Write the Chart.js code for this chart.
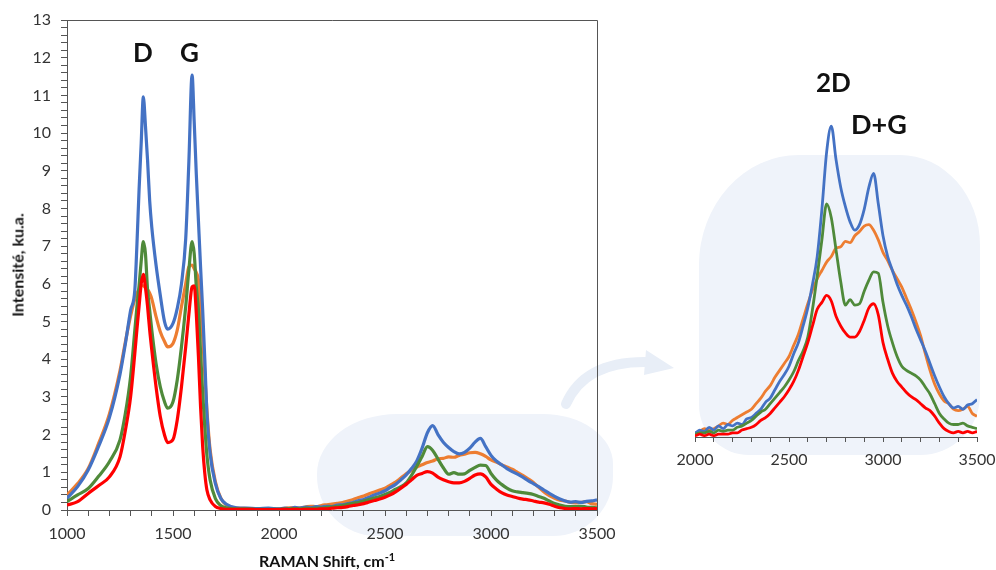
<!DOCTYPE html>
<html>
<head>
<meta charset="utf-8">
<script src="https://cdn.jsdelivr.net/npm/chart.js@4.4.0/dist/chart.umd.min.js"></script>
<style>
  body { margin: 0; background: #fff; }
  #wrap { position: relative; width: 996px; height: 570px; overflow: hidden; font-family: Lato, "Open Sans", sans-serif; }
  .blob { position: absolute; background: #eff3fa; }
  canvas { position: absolute; top: 0; }
  .lbl { position: absolute; font-weight: bold; color: #111; white-space: nowrap; }
</style>
</head>
<body>
<div id="wrap">
  <div class="blob" style="left:317px;top:414px;width:296px;height:122px;border-radius:80px 70px 60px 60px / 60px 50px 60px 60px;"></div>
  <div class="blob" style="left:699px;top:155px;width:281px;height:300px;border-radius:100px 80px 60px 50px / 110px 90px 60px 50px;"></div>
  <svg style="position:absolute;left:0;top:0" width="996" height="570">
    <path d="M 566 404 Q 585 360 650 362" fill="none" stroke="#e8eef7" stroke-width="10" stroke-linecap="round"/>
    <path d="M 646 350 L 674 368 L 644 375 Z" fill="#e8eef7"/>
  </svg>
  <canvas id="main" width="620" height="570" style="left:0"></canvas>
  <canvas id="inset" width="356" height="570" style="left:640px"></canvas>
  <div class="lbl" style="left:133px;top:36px;font-size:26px;">D</div>
  <div class="lbl" style="left:180px;top:36px;font-size:26px;">G</div>
  <div class="lbl" style="left:816px;top:66px;font-size:26px;">2D</div>
  <div class="lbl" style="left:851px;top:107px;font-size:27px;">D+G</div>
  <div class="lbl" style="left:17px;top:265px;font-size:16px;transform:translate(-50%,-50%) rotate(-90deg);">Intensité, ku.a.</div>
  <div class="lbl" style="left:259px;top:550px;font-size:16px;">RAMAN Shift, cm<sup style="font-size:11px">-1</sup></div>
</div>
<script>
// Raman shift, cm-1 (finer around D and G bands)
const shift = [1000,1050,1100,1150,1200,1250,1275,1300,1320,1330,1340,1350,1360,1370,1380,1390,1400,1420,1440,1460,1475,1500,1520,1540,1560,1575,1590,1600,1610,1620,1630,1640,1650,1660,1675,1700,1725,1750,1800,1850,1900,1950,
  2000,2025,2050,2075,2100,2125,2150,2175,2200,2225,2250,2275,2300,2325,2350,2375,2400,2425,2450,2475,2500,2525,2550,2575,2600,2625,2650,2675,2700,2725,2750,2775,2800,2825,2850,2875,2900,2925,2950,2975,3000,3025,3050,3075,3100,3125,3150,3175,3200,3225,3250,3275,3300,3325,3350,3375,3400,3425,3450,3475,3500];

const blue = [0.31,0.62,1.06,1.7,2.45,3.6,4.4,5.3,5.84,7.06,8.5,9.73,10.96,10.2,9.28,8.2,7.5,6.5,5.7,5.0,4.8,4.95,5.35,6.0,7.2,9.26,11.54,10.3,8.9,7.67,6.45,5.3,4.0,2.56,1.5,0.7,0.31,0.16,0.06,0.05,0.04,0.05,
  0.03,0.05,0.04,0.07,0.05,0.08,0.06,0.09,0.08,0.1,0.09,0.13,0.14,0.17,0.2,0.25,0.28,0.34,0.4,0.45,0.51,0.6,0.68,0.8,0.93,1.1,1.3,1.64,2.05,2.24,2.0,1.8,1.66,1.55,1.49,1.53,1.64,1.8,1.9,1.68,1.45,1.3,1.2,1.1,1.02,0.95,0.87,0.78,0.7,0.62,0.53,0.44,0.36,0.29,0.24,0.21,0.22,0.2,0.23,0.24,0.27];

const orange = [0.4,0.7,1.1,1.78,2.55,3.7,4.45,5.15,5.6,5.75,5.85,5.95,5.95,5.9,5.85,5.75,5.6,5.13,4.73,4.47,4.33,4.42,4.77,5.4,6.0,6.45,6.5,6.4,6.3,6.1,5.3,4.6,3.6,2.65,1.6,0.75,0.32,0.14,0.05,0.04,0.03,0.03,
  0.03,0.04,0.06,0.05,0.06,0.08,0.1,0.09,0.12,0.14,0.16,0.18,0.2,0.24,0.28,0.33,0.37,0.43,0.48,0.53,0.58,0.66,0.74,0.85,0.96,1.06,1.14,1.2,1.26,1.3,1.36,1.37,1.41,1.4,1.45,1.48,1.52,1.53,1.49,1.42,1.33,1.27,1.2,1.14,1.08,1.0,0.92,0.83,0.73,0.6,0.48,0.38,0.31,0.26,0.24,0.2,0.19,0.2,0.22,0.17,0.15];

const green = [0.22,0.4,0.57,0.9,1.28,1.86,2.55,3.54,4.77,5.4,5.95,6.6,7.12,6.8,5.84,5.3,4.77,3.89,3.27,2.87,2.7,2.87,3.45,4.33,5.4,6.37,7.12,6.8,5.92,5.3,4.2,3.1,2.2,1.45,0.8,0.3,0.12,0.06,0.03,0.03,0.02,0.02,
  0.02,0.03,0.03,0.04,0.03,0.05,0.04,0.05,0.05,0.07,0.08,0.1,0.12,0.15,0.18,0.2,0.24,0.28,0.32,0.36,0.41,0.47,0.55,0.62,0.72,0.92,1.16,1.42,1.68,1.58,1.35,1.12,0.95,0.99,0.95,0.96,1.05,1.13,1.19,1.18,0.97,0.8,0.68,0.58,0.51,0.48,0.46,0.44,0.41,0.36,0.31,0.24,0.17,0.13,0.1,0.09,0.09,0.1,0.08,0.07,0.06];

const red = [0.13,0.22,0.44,0.65,0.88,1.41,2.1,3.0,4.16,4.8,5.4,6.0,6.25,5.9,5.4,4.77,4.24,3.27,2.48,1.99,1.79,1.87,2.39,3.27,4.33,5.2,5.92,5.95,5.2,4.07,2.74,1.68,0.97,0.53,0.27,0.09,0.04,0.02,0.02,0.02,0.01,0.01,
  0.01,0.02,0.01,0.02,0.01,0.02,0.02,0.02,0.03,0.03,0.05,0.06,0.07,0.09,0.12,0.14,0.17,0.21,0.25,0.29,0.34,0.4,0.48,0.58,0.68,0.8,0.92,0.97,1.02,0.98,0.87,0.8,0.75,0.72,0.72,0.76,0.84,0.93,0.96,0.88,0.68,0.56,0.46,0.4,0.36,0.32,0.29,0.27,0.24,0.21,0.19,0.15,0.1,0.06,0.04,0.03,0.04,0.03,0.04,0.03,0.04];

const xTickLabels = [1000, 1500, 2000, 2500, 3000, 3500];
const yTickLabels = [0,1,2,3,4,5,6,7,8,9,10,11,12,13];
const insetTickLabels = [2000, 2500, 3000, 3500];

const AXIS = "#555";
const TICK_FONT = { family: "Lato, 'Open Sans', sans-serif", size: 16 };

function pts(ys) { return shift.map((x, i) => ({ x, y: ys[i] })); }

// first dataset is drawn on top in Chart.js
function makeDatasets(w) {
  return [
    { data: pts(red), borderColor: "#ff0000" },
    { data: pts(green), borderColor: "#4f8a3a" },
    { data: pts(blue), borderColor: "#4472c4" },
    { data: pts(orange), borderColor: "#ed7d31" }
  ].map(d => Object.assign(d, { borderWidth: w, pointRadius: 0, fill: false, cubicInterpolationMode: "monotone" }));
}

const frame = {
  id: "frame",
  afterDraw(chart) {
    const { ctx, chartArea: a } = chart;
    ctx.save();
    ctx.strokeStyle = AXIS;
    ctx.lineWidth = 1;
    ctx.beginPath();
    ctx.moveTo(a.left, a.top + 0.5);
    ctx.lineTo(a.right + 0.5, a.top + 0.5);
    ctx.lineTo(a.right + 0.5, a.bottom);
    ctx.stroke();
    ctx.restore();
  }
};

function fitX(h) {
  return s => { s.height = h; s.paddingLeft = 0; s.paddingRight = 0; };
}

new Chart(document.getElementById("main"), {
  type: "line",
  data: { datasets: makeDatasets(3.2) },
  options: {
    responsive: false,
    animation: false,
    layout: { padding: { left: 0, top: 20, right: 23, bottom: 0 } },
    plugins: { legend: { display: false }, tooltip: { enabled: false } },
    scales: {
      x: {
        type: "linear", min: 1000, max: 3500,
        afterFit: fitX(60),
        grid: { drawOnChartArea: false, tickLength: 6, color: AXIS },
        border: { color: AXIS },
        ticks: {
          stepSize: 100, autoSkip: false, maxRotation: 0, padding: 8, color: "#333", font: TICK_FONT,
          callback: v => xTickLabels.includes(v) ? String(v) : ""
        }
      },
      y: {
        min: 0, max: 13,
        afterFit: s => { s.width = 67; s.paddingTop = 0; s.paddingBottom = 0; },
        grid: { drawOnChartArea: false, tickLength: 6, color: AXIS },
        border: { color: AXIS },
        ticks: {
          stepSize: 0.2, autoSkip: false, padding: 10, color: "#333", font: TICK_FONT,
          callback: v => { const r = Math.round(v); return Math.abs(v - r) < 1e-6 && yTickLabels.includes(r) ? String(r) : ""; }
        }
      }
    }
  },
  plugins: [frame]
});

new Chart(document.getElementById("inset"), {
  type: "line",
  data: { datasets: makeDatasets(2.8) },
  options: {
    responsive: false,
    animation: false,
    layout: { padding: { left: 55, top: 90, right: 19, bottom: 0 } },
    plugins: { legend: { display: false }, tooltip: { enabled: false } },
    scales: {
      x: {
        type: "linear", min: 2000, max: 3500,
        afterFit: fitX(133),
        grid: { drawOnChartArea: false, tickLength: 5, color: AXIS },
        border: { color: AXIS },
        ticks: {
          stepSize: 100, autoSkip: false, maxRotation: 0, padding: 8, color: "#333", font: TICK_FONT,
          callback: v => insetTickLabels.includes(v) ? String(v) : ""
        }
      },
      y: { display: false, min: 0, max: 2.5 }
    }
  }
});
</script>
</body>
</html>
